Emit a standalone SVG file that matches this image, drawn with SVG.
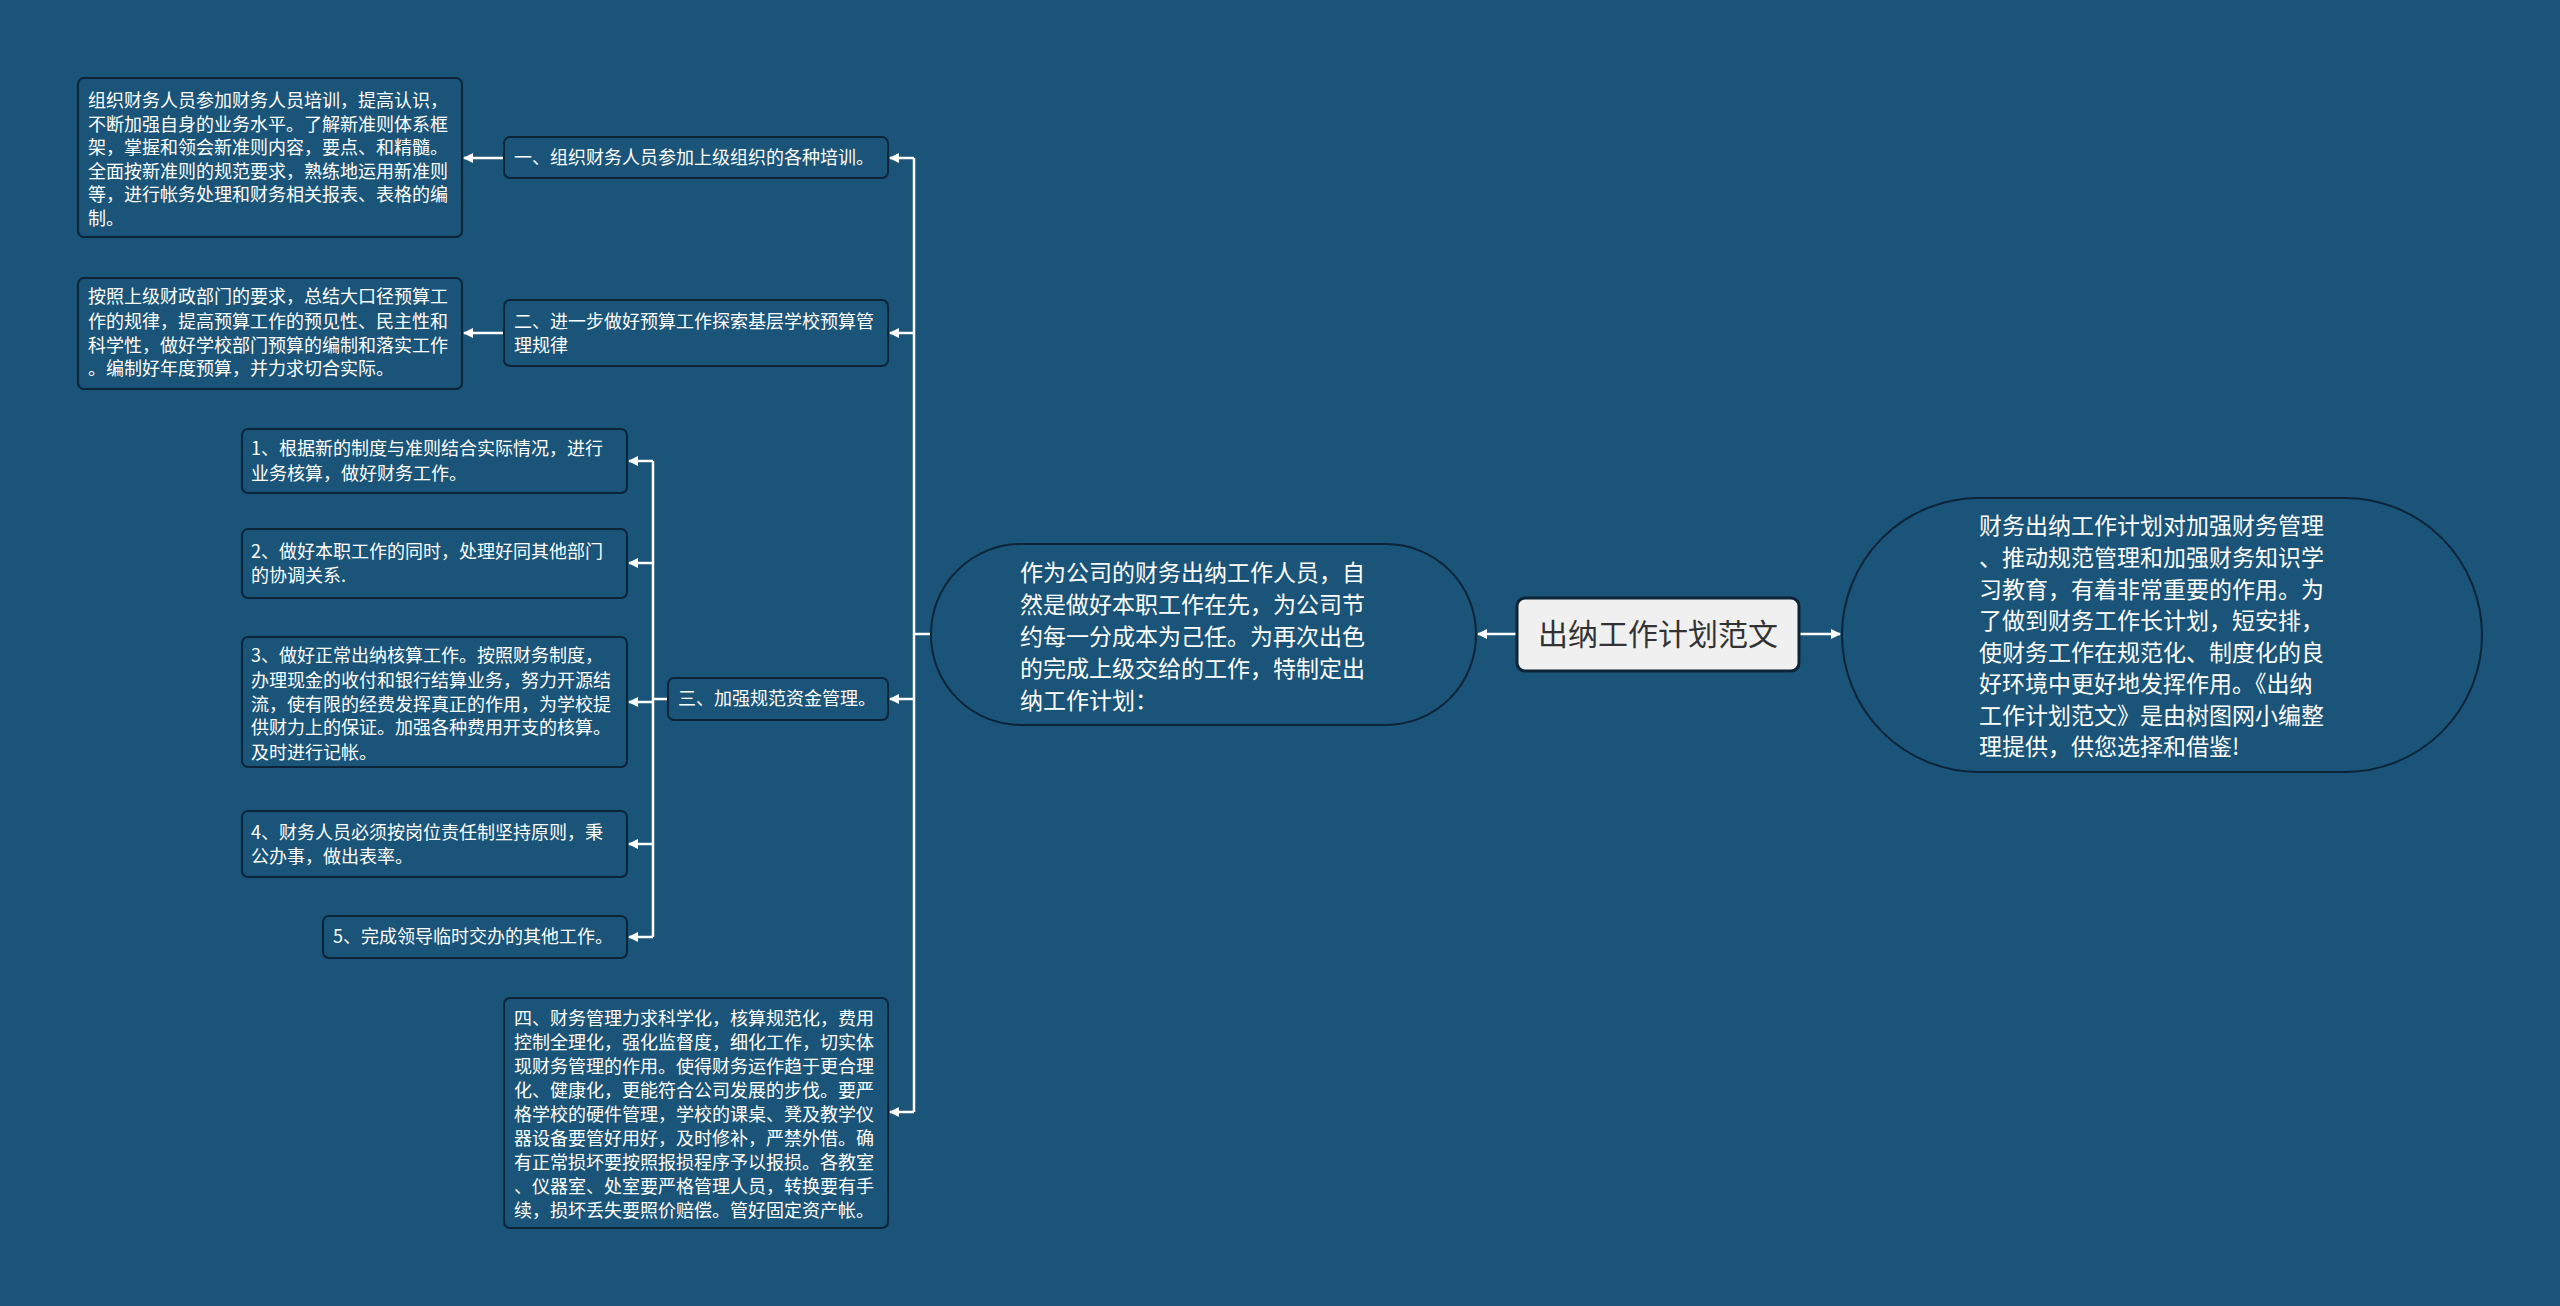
<svg xmlns="http://www.w3.org/2000/svg" width="2560" height="1306" viewBox="0 0 2560 1306">
<style>
.bx{fill:#1a5478;stroke:#0c2436;stroke-width:2}
.t{font-family:"Noto Sans CJK SC","Noto Sans",sans-serif;font-size:18px;fill:#ffffff}
.e{font-family:"Noto Sans CJK SC","Noto Sans",sans-serif;font-size:23px;fill:#ffffff}
.c{stroke:#ffffff;stroke-width:2.5;fill:none}
</style>
<defs>
<marker id="ar" viewBox="0 0 10 10" refX="9" refY="5" markerWidth="4" markerHeight="4" orient="auto"><path d="M0,0 L10,5 L0,10 z" fill="#ffffff"/></marker>
</defs>
<rect width="2560" height="1306" fill="#1a5478"/>
<g id="connectors">
<path class="c" d="M931,634 H914 M914,158 V1112" />
<path class="c" d="M914,158 H890" marker-end="url(#ar)"/>
<path class="c" d="M914,333 H890" marker-end="url(#ar)"/>
<path class="c" d="M914,699 H890" marker-end="url(#ar)"/>
<path class="c" d="M914,1112 H890" marker-end="url(#ar)"/>
<path class="c" d="M504,158 H464" marker-end="url(#ar)"/>
<path class="c" d="M504,333 H464" marker-end="url(#ar)"/>
<path class="c" d="M668,699 H653 M653,461 V937"/>
<path class="c" d="M653,461 H629" marker-end="url(#ar)"/>
<path class="c" d="M653,563 H629" marker-end="url(#ar)"/>
<path class="c" d="M653,702 H629" marker-end="url(#ar)"/>
<path class="c" d="M653,844 H629" marker-end="url(#ar)"/>
<path class="c" d="M653,937 H629" marker-end="url(#ar)"/>
<path class="c" d="M1517,634 H1478" marker-end="url(#ar)"/>
<path class="c" d="M1799,634 H1840" marker-end="url(#ar)"/>
</g>
<g id="center">
<rect x="1517" y="598" width="282" height="73" rx="8" fill="#f0f0f0" stroke="#0c2436" stroke-width="3"/>
<text x="1658" y="645" text-anchor="middle" font-family="Noto Sans CJK SC,sans-serif" font-size="30" fill="#333333">出纳工作计划范文</text>
</g>
<g id="left-ellipse">
<rect x="931" y="544" width="545" height="181" rx="90" class="bx" stroke-width="3"/>
<text class="e"><tspan x="1020" y="581">作为公司的财务出纳工作人员，自</tspan><tspan x="1020" y="613">然是做好本职工作在先，为公司节</tspan><tspan x="1020" y="645">约每一分成本为己任。为再次出色</tspan><tspan x="1020" y="677">的完成上级交给的工作，特制定出</tspan><tspan x="1020" y="709">纳工作计划：</tspan></text>
</g>
<g id="right-ellipse">
<rect x="1842" y="498" width="640" height="274" rx="137" class="bx" stroke-width="3"/>
<text class="e"><tspan x="1979" y="534">财务出纳工作计划对加强财务管理</tspan><tspan x="1979" y="566">、推动规范管理和加强财务知识学</tspan><tspan x="1979" y="598">习教育，有着非常重要的作用。为</tspan><tspan x="1979" y="629">了做到财务工作长计划，短安排，</tspan><tspan x="1979" y="661">使财务工作在规范化、制度化的良</tspan><tspan x="1979" y="692">好环境中更好地发挥作用。《出纳</tspan><tspan x="1979" y="724">工作计划范文》是由树图网小编整</tspan><tspan x="1979" y="755">理提供，供您选择和借鉴!</tspan></text>
</g>
<g id="n1">
<rect x="504" y="137" width="384" height="41" rx="6" class="bx"/>
<text class="t" x="514" y="164">一、组织财务人员参加上级组织的各种培训。</text>
</g>
<g id="n1a">
<rect x="78" y="78" width="384" height="159" rx="6" class="bx"/>
<text class="t"><tspan x="88" y="107">组织财务人员参加财务人员培训，提高认识，</tspan><tspan x="88" y="131">不断加强自身的业务水平。了解新准则体系框</tspan><tspan x="88" y="154">架，掌握和领会新准则内容，要点、和精髓。</tspan><tspan x="88" y="178">全面按新准则的规范要求，熟练地运用新准则</tspan><tspan x="88" y="201">等，进行帐务处理和财务相关报表、表格的编</tspan><tspan x="88" y="225">制。</tspan></text>
</g>
<g id="n2">
<rect x="504" y="300" width="384" height="66" rx="6" class="bx"/>
<text class="t"><tspan x="514" y="328">二、进一步做好预算工作探索基层学校预算管</tspan><tspan x="514" y="352">理规律</tspan></text>
</g>
<g id="n2a">
<rect x="78" y="278" width="384" height="111" rx="6" class="bx"/>
<text class="t"><tspan x="88" y="303">按照上级财政部门的要求，总结大口径预算工</tspan><tspan x="88" y="328">作的规律，提高预算工作的预见性、民主性和</tspan><tspan x="88" y="352">科学性，做好学校部门预算的编制和落实工作</tspan><tspan x="88" y="375">。编制好年度预算，并力求切合实际。</tspan></text>
</g>
<g id="n3">
<rect x="668" y="678" width="220" height="42" rx="6" class="bx"/>
<text class="t" x="678" y="705">三、加强规范资金管理。</text>
</g>
<g id="s1">
<rect x="242" y="429" width="385" height="64" rx="6" class="bx"/>
<text class="t"><tspan x="251" y="455">1、根据新的制度与准则结合实际情况，进行</tspan><tspan x="251" y="480">业务核算，做好财务工作。</tspan></text>
</g>
<g id="s2">
<rect x="242" y="529" width="385" height="69" rx="6" class="bx"/>
<text class="t"><tspan x="251" y="558">2、做好本职工作的同时，处理好同其他部门</tspan><tspan x="251" y="582">的协调关系.</tspan></text>
</g>
<g id="s3">
<rect x="242" y="637" width="385" height="130" rx="6" class="bx"/>
<text class="t"><tspan x="251" y="662">3、做好正常出纳核算工作。按照财务制度，</tspan><tspan x="251" y="687">办理现金的收付和银行结算业务，努力开源结</tspan><tspan x="251" y="711">流，使有限的经费发挥真正的作用，为学校提</tspan><tspan x="251" y="734">供财力上的保证。加强各种费用开支的核算。</tspan><tspan x="251" y="759">及时进行记帐。</tspan></text>
</g>
<g id="s4">
<rect x="242" y="811" width="385" height="66" rx="6" class="bx"/>
<text class="t"><tspan x="251" y="839">4、财务人员必须按岗位责任制坚持原则，秉</tspan><tspan x="251" y="863">公办事，做出表率。</tspan></text>
</g>
<g id="s5">
<rect x="323" y="916" width="304" height="42" rx="6" class="bx"/>
<text class="t" x="333" y="943">5、完成领导临时交办的其他工作。</text>
</g>
<g id="n4">
<rect x="504" y="998" width="384" height="230" rx="6" class="bx"/>
<text class="t"><tspan x="514" y="1025">四、财务管理力求科学化，核算规范化，费用</tspan><tspan x="514" y="1049">控制全理化，强化监督度，细化工作，切实体</tspan><tspan x="514" y="1073">现财务管理的作用。使得财务运作趋于更合理</tspan><tspan x="514" y="1097">化、健康化，更能符合公司发展的步伐。要严</tspan><tspan x="514" y="1121">格学校的硬件管理，学校的课桌、凳及教学仪</tspan><tspan x="514" y="1145">器设备要管好用好，及时修补，严禁外借。确</tspan><tspan x="514" y="1169">有正常损坏要按照报损程序予以报损。各教室</tspan><tspan x="514" y="1193">、仪器室、处室要严格管理人员，转换要有手</tspan><tspan x="514" y="1217">续，损坏丢失要照价赔偿。管好固定资产帐。</tspan></text>
</g>
</svg>
